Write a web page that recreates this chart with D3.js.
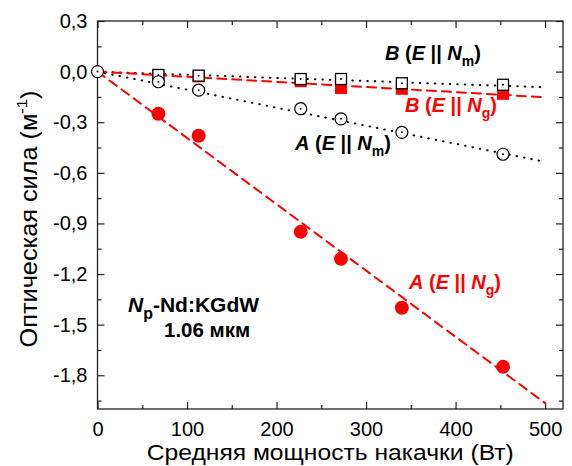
<!DOCTYPE html>
<html>
<head>
<meta charset="utf-8">
<script src="https://cdn.jsdelivr.net/npm/d3@7"></script>
<style>
body { margin: 0; background: #fff; }
text { font-family: Arial, "Liberation Sans", sans-serif; }
</style>
</head>
<body>
<svg width="572" height="466"></svg>
<script>
// pump power (W) and optical power (1/m)
var power = [68, 113, 227, 272, 340, 453];
var powerAm = [0, 68, 113, 227, 272, 340, 453];
var aNg = [-0.25, -0.38, -0.95, -1.11, -1.40, -1.75];
var aNm = [0, -0.06, -0.11, -0.22, -0.28, -0.36, -0.49];
var bNm = [-0.02, -0.024, -0.044, -0.044, -0.069, -0.078];
var bNg = [-0.022, -0.028, -0.057, -0.097, -0.102, -0.132];

// linear fits (end points)
var fitX = [0, 500];
var fitANg = [0, -1.965];
var fitANm = [0, -0.535];
var fitBNm = [0, -0.093];
var fitBNg = [0, -0.152];

var xTicks = [0, 100, 200, 300, 400, 500];
var xMinor = [50, 150, 250, 350, 450];
var yTicks = [0.3, 0, -0.3, -0.6, -0.9, -1.2, -1.5, -1.8];
var yMinor = [0.15, -0.15, -0.45, -0.75, -1.05, -1.35, -1.65, -1.95];

var svg = d3.select("svg");
var margin = { top: 21, right: 9, bottom: 57, left: 97.5 },
    width = +svg.attr("width") - margin.left - margin.right,
    height = +svg.attr("height") - margin.top - margin.bottom;

var g = svg.append("g")
    .attr("transform", "translate(" + margin.left + "," + margin.top + ")");

var x = d3.scaleLinear().domain([0, 520]).range([0, width]);
var y = d3.scaleLinear().domain([-2.0, 0.3]).range([height, 0]);

var fmt = function (d) { return d3.format(".1f")(d).replace(".", ",").replace("\u2212", "-"); };

function styleAxis(sel) {
    sel.select(".domain").remove();
    sel.selectAll("line").attr("stroke", "#222").attr("stroke-width", 1.2);
    sel.selectAll("text").attr("font-size", 20).attr("fill", "#000");
}

// major + minor ticks, inward
g.append("g").attr("transform", "translate(0," + height + ")")
    .call(d3.axisBottom(x).tickValues(xTicks).tickSize(-7).tickPadding(13).tickFormat(d3.format("d")))
    .call(styleAxis);
g.append("g").attr("transform", "translate(0," + height + ")")
    .call(d3.axisBottom(x).tickValues(xMinor).tickSize(-4).tickFormat(""))
    .call(styleAxis);
g.append("g")
    .call(d3.axisTop(x).tickValues(xTicks).tickSize(-7).tickFormat(""))
    .call(styleAxis);
g.append("g")
    .call(d3.axisTop(x).tickValues(xMinor).tickSize(-4).tickFormat(""))
    .call(styleAxis);
g.append("g")
    .call(d3.axisLeft(y).tickValues(yTicks).tickSize(-7).tickPadding(10).tickFormat(fmt))
    .call(styleAxis);
g.append("g")
    .call(d3.axisLeft(y).tickValues(yMinor).tickSize(-4).tickFormat(""))
    .call(styleAxis);
g.append("g").attr("transform", "translate(" + width + ",0)")
    .call(d3.axisRight(y).tickValues(yTicks).tickSize(-7).tickFormat(""))
    .call(styleAxis);
g.append("g").attr("transform", "translate(" + width + ",0)")
    .call(d3.axisRight(y).tickValues(yMinor).tickSize(-4).tickFormat(""))
    .call(styleAxis);

g.append("rect")
    .attr("width", width).attr("height", height)
    .attr("fill", "none").attr("stroke", "#222").attr("stroke-width", 1.3);

// fit lines
var line = d3.line().x(function (d) { return x(d[0]); }).y(function (d) { return y(d[1]); });
function fitLine(ys, color, dash, w) {
    g.append("path")
        .datum(d3.zip(fitX, ys))
        .attr("d", line)
        .attr("fill", "none")
        .attr("stroke", color)
        .attr("stroke-width", w)
        .attr("stroke-linecap", "round")
        .attr("stroke-dasharray", dash);
}
fitLine(fitBNm, "#000", "0.5,7", 2);
fitLine(fitANm, "#000", "0.5,7", 2);
fitLine(fitANg, "#f00", "9,6", 2);
fitLine(fitBNg, "#f00", "9,6", 2);

// B (E || Ng) red squares
g.selectAll(".sqr").data(d3.zip(power, bNg)).enter().append("rect")
    .attr("x", function (d) { return x(d[0]) - 6; })
    .attr("y", function (d) { return y(d[1]) - 6; })
    .attr("width", 12).attr("height", 12)
    .attr("fill", "#f00");

// B (E || Nm) open squares
var sq = g.selectAll(".sqb").data(d3.zip(power, bNm)).enter().append("g")
    .attr("transform", function (d) { return "translate(" + x(d[0]) + "," + y(d[1]) + ")"; });
sq.append("rect").attr("x", -5.5).attr("y", -5.5).attr("width", 11).attr("height", 11)
    .attr("fill", "#fff").attr("stroke", "#000").attr("stroke-width", 1.3);
sq.append("circle").attr("r", 1).attr("fill", "#000");

// A (E || Nm) open circles
var ci = g.selectAll(".cib").data(d3.zip(powerAm, aNm)).enter().append("g")
    .attr("transform", function (d) { return "translate(" + x(d[0]) + "," + y(d[1]) + ")"; });
ci.append("circle").attr("r", 6)
    .attr("fill", "#fff").attr("stroke", "#000").attr("stroke-width", 1.2);
ci.append("circle").attr("r", 1).attr("fill", "#000");

// A (E || Ng) red filled circles
g.selectAll(".cir").data(d3.zip(power, aNg)).enter().append("circle")
    .attr("cx", function (d) { return x(d[0]); })
    .attr("cy", function (d) { return y(d[1]); })
    .attr("r", 7)
    .attr("fill", "#f00");

// series labels
function seriesLabel(px, py, color, a, sub) {
    var t = svg.append("text").attr("x", px).attr("y", py)
        .attr("fill", color).attr("font-size", 20).attr("font-weight", "bold");
    t.append("tspan").attr("font-style", "italic").text(a);
    t.append("tspan").text(" (");
    t.append("tspan").attr("font-style", "italic").text("E");
    t.append("tspan").text(" || ");
    t.append("tspan").attr("font-style", "italic").text("N");
    t.append("tspan").attr("font-size", 14).attr("dy", 6).text(sub);
    t.append("tspan").attr("dy", -6).text(")");
}
seriesLabel(385, 60, "#000", "B", "m");
seriesLabel(405, 112, "#f00", "B", "g");
seriesLabel(295, 150, "#000", "A", "m");
seriesLabel(409, 289, "#f00", "A", "g");

// crystal label
var c1 = svg.append("text").attr("x", 128).attr("y", 312)
    .attr("font-size", 21).attr("font-weight", "bold");
c1.append("tspan").attr("font-style", "italic").text("N");
c1.append("tspan").attr("font-size", 16).attr("dy", 7).text("p");
c1.append("tspan").attr("dy", -7).text("-Nd:KGdW");
svg.append("text").attr("x", 164).attr("y", 337)
    .attr("font-size", 20.5).attr("font-weight", "bold").text("1.06 мкм");

// axis titles
svg.append("text")
    .attr("x", margin.left + width / 2).attr("y", 460)
    .attr("text-anchor", "middle").attr("font-size", 22)
    .attr("textLength", 367).attr("lengthAdjust", "spacingAndGlyphs")
    .text("Средняя мощность накачки (Вт)");

var yl = svg.append("text")
    .attr("transform", "translate(37,219) rotate(-90) scale(1.1,1)")
    .attr("text-anchor", "middle").attr("font-size", 23);
yl.append("tspan").text("Оптическая сила (м");
yl.append("tspan").attr("font-size", 15).attr("dy", -10).text("-1");
yl.append("tspan").attr("dy", 10).text(")");
</script>
</body>
</html>
